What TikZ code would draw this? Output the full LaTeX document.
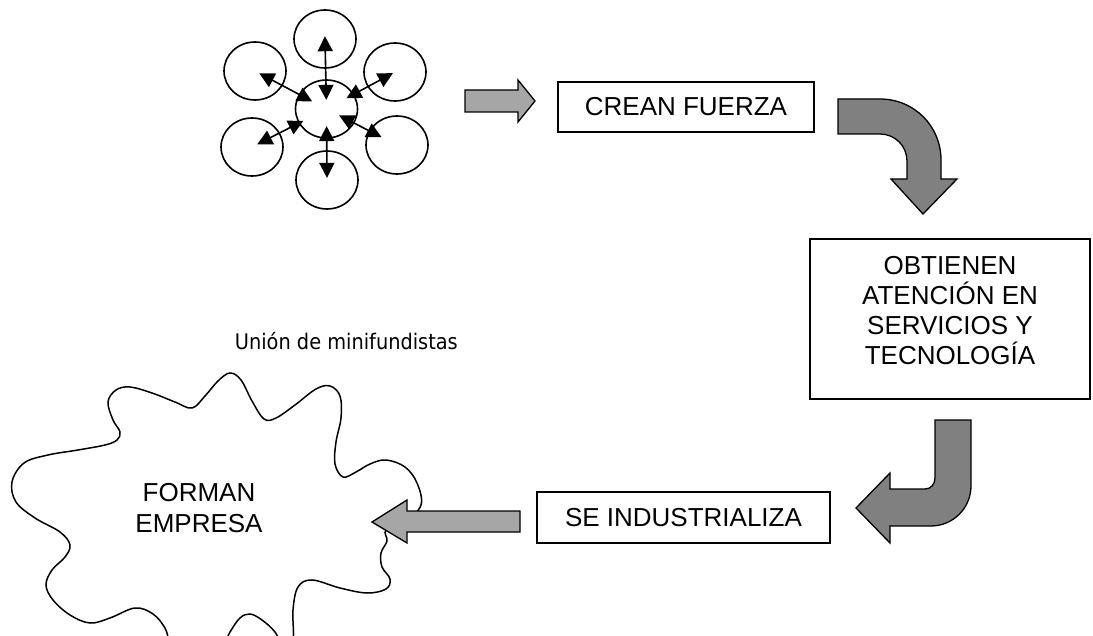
\documentclass[tikz,border=0pt]{standalone}
\usepackage{fontspec}
\setmainfont{Liberation Sans}
\newfontfamily\labelfont[FakeStretch=0.9]{DejaVu Sans}
\usetikzlibrary{arrows.meta,calc,shapes.geometric}
\definecolor{lightarrow}{RGB}{166,166,166}
\definecolor{darkarrow}{RGB}{128,128,128}

\begin{document}
\begin{tikzpicture}[x=1pt, y=-1pt,
    member/.style={draw, ellipse, line width=1.6pt, minimum width=62pt, minimum height=58pt, inner sep=0pt},
    twoway/.style={{Triangle[length=15pt,width=15pt]}-{Triangle[length=15pt,width=15pt]}, line width=1.6pt},
    box/.style={draw, line width=1.6pt, inner sep=0pt, font=\fontsize{26}{30}\selectfont},
    flat/.style={draw, line width=1.3pt, fill=lightarrow},
    bent/.style={draw, line width=1.3pt, fill=darkarrow}]
    \useasboundingbox (0,0) rectangle (1093,636);

    % Circles
    \node [member] (hub) at (326.5,109) {};
    \node [member] (top) at (325,39) {};
    \node [member] (upleft) at (255,71) {};
    \node [member] (upright) at (395,72) {};
    \node [member] (lowleft) at (252,147) {};
    \node [member] (lowright) at (397,145) {};
    \node [member] (bottom) at (327,180) {};
    \foreach \sat/\a/\b in {top/0.13/1.04, upleft/0.2/0.94, upright/0.29/0.97,
        lowleft/0.31/0.93, lowright/0.18/0.78, bottom/0.24/0.97}
        \draw [twoway] ($(hub)!\a!(\sat)$) -- ($(hub)!\b!(\sat)$);

    % Boxes
    \node [box, minimum width=256pt, minimum height=50pt] (force) at (686,107) {CREAN FUERZA};
    \node [box, minimum width=280pt, minimum height=160pt] (attention) at (950,319) {};
    \node [font=\fontsize{26}{30}\selectfont, align=center, inner sep=0pt] (attentiontext)
        at ([yshift=8pt]attention.center) {OBTIENEN\\ATENCIÓN EN\\SERVICIOS Y\\TECNOLOGÍA};
    \node [box, minimum width=293pt, minimum height=51pt] (industry) at (683.5,517.5) {SE INDUSTRIALIZA};

    % Cloud
    \begin{scope}
        \clip (0,0) rectangle (1093,636);
        \draw [line width=1.5pt, fill=white] plot [smooth cycle, tension=0.6] coordinates {
            (105,445) (117,440) (120,432) (113,420) (108,402) (116,390) (130,387) (152,393)
            (175,402) (192,408) (205,396) (218,381) (230,373) (241,380) (252,401) (264,419)
            (276,418) (295,405) (316,389) (330,386) (340,396) (341,418) (336,442) (335,464)
            (343,477) (356,472) (370,464) (386,460) (405,467) (417,483) (421,505) (405,522)
            (386,530) (387,541) (381,553) (382,567) (390,579) (386,589) (367,593) (340,588)
            (312,580) (298,587) (293,610) (293,640) (284,648) (275,632) (262,620) (250,614)
            (240,618) (230,632) (220,650) (195,662) (172,645) (165,628) (153,614) (135,608)
            (110,618) (90,623) (70,615) (53,600) (46,585) (52,570) (65,557) (70,545)
            (60,532) (35,518) (16,502) (12,482) (24,463) (48,455) (78,450)};
    \end{scope}
    \node [font=\fontsize{26}{31}\selectfont, align=center, inner sep=0pt] (firm) at (199,508) {FORMAN\\EMPRESA};
    \node [font=\labelfont\fontsize{21.5}{26}\selectfont, anchor=base east, inner sep=0pt] (union)
        at (458,350) {Unión de minifundistas};

    % Arrows
    \draw [flat] (465,90) -- (518,90) -- (518,80) -- (535,101) -- (518,122) -- (518,112) -- (465,112) -- cycle;
    \draw [bent] (838,99) -- (880,99) .. controls (914,99) and (941,126) .. (941,160) -- (941,179)
        -- (957,179) -- (923,214) -- (891,179) -- (907,179) -- (907,161)
        .. controls (907,146) and (895,134) .. (880,134) -- (838,134) -- cycle;
    \draw [bent] (935,420) -- (971,420) -- (971,486) .. controls (971,508) and (953,526) .. (931,526)
        -- (890,526) -- (890,543) -- (856,508) -- (890,473) -- (890,489) -- (925,489)
        .. controls (931,489) and (935,484) .. (935,478) -- cycle;
    \draw [flat] (520,511) -- (407,511) -- (407,500) -- (372,522) -- (407,543) -- (407,532) -- (520,532) -- cycle;
\end{tikzpicture}
\end{document}
